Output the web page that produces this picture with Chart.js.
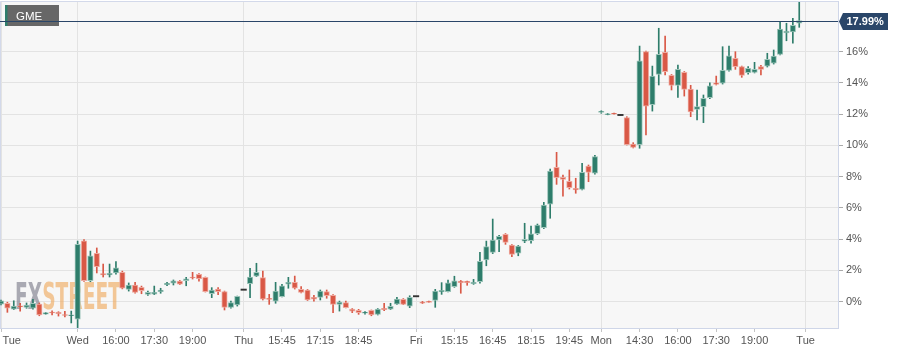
<!DOCTYPE html>
<html><head><meta charset="utf-8">
<script src="https://cdn.jsdelivr.net/npm/chart.js@4/dist/chart.umd.min.js"></script>
<style>html,body{margin:0;padding:0;background:#fff;overflow:hidden}canvas{display:block}</style>
</head><body>
<canvas id="c" width="903" height="354"></canvas>
<script>
const symbol = 'GME';
const tickIdx = [0,12,18,24,30,38,44,50,56,65,71,77,83,89,94,100,106,112,118,126];
const tickLabels = ['Tue','Wed','16:00','17:30','19:00','Thu','15:45','17:15','18:45','Fri','15:15','16:45','18:15','19:45','Mon','14:30','16:00','17:30','19:00','Tue'];
const dayTicks = [0,12,38,65,94,126];
const yTicks = [0,2,4,6,8,10,12,14,16];

const open = [-0.15,-0.10,-0.47,-0.26,-0.36,-0.42,-0.15,-0.79,-0.66,-0.68,-0.82,-0.90,-1.11,3.90,1.34,3.10,1.80,1.71,1.84,1.88,
0.79,1.07,0.92,0.47,0.49,0.64,1.09,1.18,1.32,1.34,1.58,1.75,1.56,0.51,0.81,0.64,-0.36,-0.21,0.77,1.15,
1.64,1.54,0.22,0.04,0.32,1.13,1.24,0.79,0.75,0.28,0.28,0.64,0.41,-0.17,-0.06,-0.47,-0.55,-0.74,-0.55,-0.81,
-0.42,-0.47,-0.15,0.15,-0.28,0.35,0.00,0.03,0.09,0.62,0.64,0.96,1.32,1.31,1.15,1.28,2.67,3.16,3.95,4.31,
3.63,3.10,3.87,3.90,4.35,4.74,6.25,8.60,7.96,7.71,7.26,7.19,8.68,8.22,12.12,11.97,12.06,11.95,11.78,10.09,
10.05,16.00,12.61,14.55,15.96,14.49,13.85,14.68,13.61,12.31,12.48,13.06,14.00,13.98,14.81,15.58,15.04,14.66,14.68,15.04,
15.08,15.26,15.83,17.20,17.26,17.82];
const high = [0.10,0.00,0.06,-0.10,-0.08,0.15,-0.08,-0.68,-0.58,-0.64,-0.62,-0.60,3.88,3.97,3.24,3.44,2.41,2.41,2.56,1.96,
1.20,1.24,1.00,0.68,1.00,0.86,1.24,1.39,1.36,1.56,1.88,1.80,1.58,0.90,0.90,0.68,0.04,0.36,0.77,2.14,
2.46,1.96,0.47,1.24,1.11,1.56,1.64,0.96,0.78,0.41,0.75,0.75,0.46,0.04,0.04,-0.44,-0.49,-0.63,-0.53,-0.44,
-0.10,-0.10,0.28,0.20,0.38,0.35,0.02,0.04,0.79,1.22,1.39,1.63,1.36,1.32,1.43,3.16,3.88,5.29,4.24,4.36,
3.66,3.60,5.02,4.84,4.97,6.36,8.49,9.56,8.11,8.43,7.90,8.86,8.75,9.36,12.22,12.04,12.07,11.95,11.84,10.18,
16.36,16.04,15.08,17.50,17.00,14.54,15.15,14.73,13.85,13.55,13.23,14.00,14.44,16.32,16.36,16.00,15.08,15.04,15.32,15.12,
15.90,16.11,17.88,17.82,18.14,19.16];
const low = [-0.20,-0.68,-0.50,-0.60,-0.42,-0.47,-0.90,-0.80,-0.85,-0.92,-0.98,-1.36,-1.66,1.30,1.28,1.84,1.58,1.58,1.77,0.82,
0.68,0.55,0.51,0.41,0.45,0.54,1.02,1.07,1.10,1.02,1.45,1.32,0.62,0.26,0.45,-0.53,-0.42,-0.28,0.77,0.26,
1.61,0.11,-0.17,-0.10,0.30,0.86,0.81,0.56,0.08,0.04,0.11,0.22,-0.70,-0.60,-0.40,-0.70,-0.81,-0.79,-0.90,-0.85,
-0.58,-0.50,-0.17,-0.19,-0.38,0.35,-0.12,-0.05,-0.36,0.47,0.62,0.92,0.54,1.05,1.11,1.18,2.30,3.08,3.20,3.67,
2.88,2.94,3.78,3.74,4.30,4.68,5.34,7.51,6.76,7.21,6.94,7.15,7.68,8.17,12.06,11.96,12.00,11.95,10.03,9.84,
9.82,10.67,12.20,13.87,14.51,13.55,13.08,13.16,11.84,11.63,11.46,13.00,13.87,13.93,14.76,14.87,14.36,14.57,14.64,14.51,
15.02,15.21,15.79,16.70,16.54,17.56];
const close = [0.05,-0.42,-0.28,-0.34,-0.21,-0.10,-0.85,-0.70,-0.72,-0.77,-0.88,-0.84,3.67,1.34,2.94,2.24,1.72,1.82,2.16,0.86,
1.07,0.60,0.70,0.60,0.60,0.75,1.18,1.34,1.13,1.47,1.52,1.47,0.64,0.75,0.64,-0.36,-0.06,0.35,0.77,1.58,
1.88,0.17,0.15,0.68,1.02,1.24,0.86,0.60,0.11,0.17,0.68,0.38,-0.17,-0.02,-0.38,-0.60,-0.70,-0.66,-0.85,-0.47,
-0.51,-0.29,0.17,-0.17,0.28,0.35,-0.10,-0.04,0.68,0.73,1.20,1.34,1.22,1.22,1.24,2.59,3.52,3.95,4.19,3.80,
3.03,3.56,3.99,4.35,4.91,6.19,8.36,7.94,7.83,7.30,7.15,8.28,8.28,9.28,12.19,12.03,12.01,11.95,10.05,9.88,
15.42,12.52,14.44,15.83,14.72,13.85,14.87,13.59,12.14,12.48,13.02,13.82,13.91,14.81,15.74,15.04,14.49,14.94,14.87,14.87,
15.51,15.72,17.45,17.32,17.69,17.99];

const UP = '#2e7d6b', UP_B = '#9cc4b9', DN = '#d95846', DN_B = '#eeaaa0', DOJI = '#333333';
const FONT = '"Liberation Sans", Arial, sans-serif';

const kind = close.map((c, i) => c > open[i] ? 'up' : (c < open[i] ? 'dn' : 'doji'));
const bodies = open.map((o, i) => {
  const c = close[i];
  if (kind[i] === 'doji') return { x: i, y: [o - 0.04, o + 0.04] };
  return { x: i, y: [Math.min(o, c), Math.max(o, c)] };
});
const wicks = open.map((o, i) => ({ x: i, y: [low[i], high[i]] }));
const fillOf = k => k === 'up' ? UP : (k === 'dn' ? DN : DOJI);
const bordOf = k => k === 'up' ? UP_B : (k === 'dn' ? DN_B : DOJI);
const lastClose = close[close.length - 1];

const deco = {
  id: 'deco',
  beforeDraw(chart) {
    const { ctx, chartArea: a } = chart;
    ctx.save();
    ctx.fillStyle = '#f7f7f7';
    ctx.fillRect(a.left, a.top, a.right - a.left, a.bottom - a.top);
    ctx.restore();
  },
  beforeDatasetsDraw(chart) {
    const { ctx, chartArea: a } = chart;
    ctx.save();
    ctx.strokeStyle = '#d3d9ea';
    ctx.lineWidth = 1;
    ctx.beginPath();
    ctx.moveTo(a.left + 0.5, a.bottom);
    ctx.lineTo(a.left + 0.5, a.top + 0.5);
    ctx.lineTo(a.right, a.top + 0.5);
    ctx.stroke();
    // watermark
    ctx.font = 'bold 37px "Liberation Sans Narrow","DejaVu Sans Condensed","Liberation Sans",sans-serif';
    ctx.textBaseline = 'alphabetic';
    const w1 = ctx.measureText('FX').width, w2 = ctx.measureText('STREET').width;
    ctx.translate(15, 308.5);
    ctx.scale(106 / (w1 + w2), 1);
    ctx.fillStyle = 'rgba(135,135,148,0.7)';
    ctx.fillText('FX', 0, 0);
    ctx.fillStyle = 'rgba(240,172,98,0.65)';
    ctx.fillText('STREET', w1, 0);
    ctx.restore();
  },
  afterDatasetsDraw(chart) {
    const { ctx, chartArea: a, scales } = chart;
    ctx.save();
    // legend box
    ctx.fillStyle = '#676767';
    ctx.fillRect(5, 5, 54, 21);
    ctx.fillStyle = UP;
    ctx.fillRect(5, 5, 2.5, 21);
    ctx.fillStyle = '#ffffff';
    ctx.font = '11.5px ' + FONT;
    ctx.textBaseline = 'alphabetic';
    ctx.fillText(symbol, 16, 20);
    // price line
    const py = Math.round(scales.y.getPixelForValue(lastClose)) + 0.5;
    ctx.strokeStyle = '#2a4669';
    ctx.lineWidth = 1;
    ctx.beginPath();
    ctx.moveTo(a.left, py);
    ctx.lineTo(a.right, py);
    ctx.stroke();
    // price label
    ctx.fillStyle = '#2a4669';
    ctx.beginPath();
    ctx.moveTo(a.right + 1, py);
    ctx.lineTo(a.right + 5, py - 8.5);
    ctx.lineTo(888, py - 8.5);
    ctx.lineTo(888, py + 8.5);
    ctx.lineTo(a.right + 5, py + 8.5);
    ctx.closePath();
    ctx.fill();
    ctx.fillStyle = '#ffffff';
    ctx.font = 'bold 11px ' + FONT;
    ctx.textBaseline = 'middle';
    ctx.fillText(lastClose.toFixed(2) + '%', 846.5, py + 0.5);
    ctx.restore();
  }
};

new Chart(document.getElementById('c'), {
  type: 'bar',
  data: {
    datasets: [
      { label: 'body', data: bodies, order: 0, grouped: false, barThickness: 5.5,
        backgroundColor: kind.map(fillOf), borderColor: kind.map(bordOf),
        borderWidth: kind.map(k => k === 'doji' ? 0 : 1), borderSkipped: false },
      { label: 'wick', data: wicks, order: 1, grouped: false, barThickness: 1,
        backgroundColor: kind.map(fillOf), borderWidth: 0 }
    ]
  },
  options: {
    responsive: false,
    animation: false,
    devicePixelRatio: 1,
    layout: { padding: { top: 1, left: 0, right: 0, bottom: 0 } },
    plugins: { legend: { display: false }, tooltip: { enabled: false } },
    scales: {
      x: {
        type: 'linear', min: -0.157, max: 131.07, offset: false,
        afterBuildTicks: s => { s.ticks = tickIdx.map(v => ({ value: v })); },
        afterFit: s => { s.height = 26; s.paddingLeft = 0; s.paddingRight = 0; },
        ticks: {
          autoSkip: false, maxRotation: 0, minRotation: 0, padding: 2,
          color: '#555', font: { size: 11, family: FONT },
          callback: (v, i) => i === 0 ? '       ' + tickLabels[i] : tickLabels[i]
        },
        grid: {
          offset: false,
          color: ctx => (ctx.tick && dayTicks.includes(ctx.tick.value)) ? '#e3e3e3' : 'rgba(0,0,0,0)',
          tickColor: '#c4c4c4', tickLength: 4
        },
        border: { color: '#cfd6e8' }
      },
      y: {
        position: 'right', min: -1.683, max: 19.245,
        afterBuildTicks: s => { s.ticks = yTicks.map(v => ({ value: v })); },
        afterFit: s => { s.width = 65; s.paddingTop = 0; s.paddingBottom = 0; },
        ticks: { padding: 3, color: '#555', font: { size: 11, family: FONT }, callback: v => v + '%' },
        grid: { color: '#e3e3e3', tickColor: '#aaaaaa', tickLength: 5 },
        border: { color: '#cfd6e8' }
      }
    }
  },
  plugins: [deco]
});
</script>
</body></html>
